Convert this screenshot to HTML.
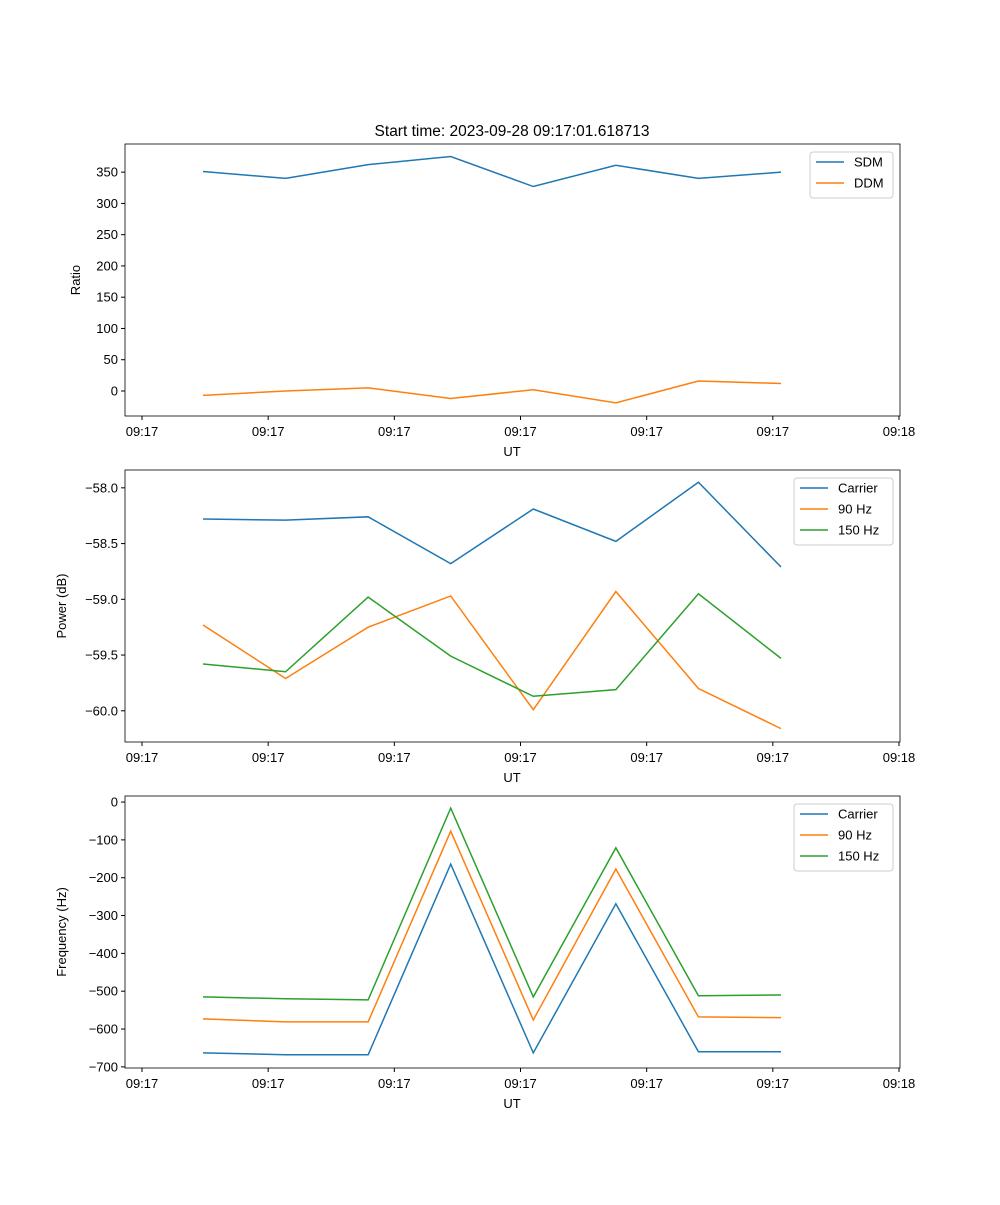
<!DOCTYPE html>
<html><head><meta charset="utf-8"><style>
body{margin:0;background:#fff}
svg text{font-family:"Liberation Sans","DejaVu Sans",sans-serif;font-size:13px;fill:#000}
</style></head><body>
<svg id="c" width="1000" height="1200" xmlns="http://www.w3.org/2000/svg">
<text x="512" y="136" text-anchor="middle" style="font-size:15.5px">Start time: 2023-09-28 09:17:01.618713</text>
</svg>
<script>
const xTickLabels=["09:17","09:17","09:17","09:17","09:17","09:17","09:18"];
const sdm=[351,340,362,375,327,361,340,350];
const ddm=[-7,0,5,-12,2,-19,16,12];
const pwrCarrier=[-58.28,-58.29,-58.26,-58.68,-58.19,-58.48,-57.95,-58.71];
const pwr90=[-59.23,-59.71,-59.25,-58.97,-59.99,-58.93,-59.80,-60.16];
const pwr150=[-59.58,-59.65,-58.98,-59.51,-59.87,-59.81,-58.95,-59.53];
const frqCarrier=[-663,-668,-668,-164,-663,-269,-660,-660];
const frq90=[-573,-581,-581,-77,-576,-177,-568,-570];
const frq150=[-515,-520,-523,-16,-515,-121,-512,-510];
const ticks1=[0,50,100,150,200,250,300,350];
const ticks2=[-60.0,-59.5,-59.0,-58.5,-58.0];
const ticks3=[-700,-600,-500,-400,-300,-200,-100,0];
const svg=document.getElementById('c');
const NS='http://www.w3.org/2000/svg';
function mk(t,a,p){const e=document.createElementNS(NS,t);for(const k in a)e.setAttribute(k,a[k]);(p||svg).appendChild(e);return e;}
const L=125,R=900;
function xp(i){return 203+(781-203)/7*i;}
function panel(name,top,bot,ymin,ymax,ticks,fmt,ylabel,series,legend){
  const g=mk('g',{});
  
  
  const y=v=>bot-(v-ymin)/(ymax-ymin)*(bot-top);
  series.forEach(s=>{
    const p=mk('polyline',{points:s.d.map((v,i)=>xp(i)+','+y(v)).join(' '),fill:'none',stroke:s.c,'stroke-width':1.5},g);
    
    
  });
  mk('rect',{x:L,y:top,width:R-L,height:bot-top,fill:'none',stroke:'#000','stroke-width':0.8},g);
  ticks.forEach(v=>{const yy=y(v);mk('line',{x1:L-4,x2:L,y1:yy,y2:yy,stroke:'#000'},g);
    const t=mk('text',{x:L-7,y:yy+4.5,'text-anchor':'end'},g);t.textContent=fmt(v);
    });
  xTickLabels.forEach((s,j)=>{const xx=142+(899-142)/6*j;mk('line',{x1:xx,x2:xx,y1:bot,y2:bot+4,stroke:'#000'},g);
    const t=mk('text',{x:xx,y:bot+20,'text-anchor':'middle'},g);t.textContent=s;
    });
  const xl=mk('text',{x:512,y:bot+40,'text-anchor':'middle'},g);xl.textContent='UT';
  
  const cy=(top+bot)/2,lx=ylabel.length>6?66:80;
  const yl=mk('text',{x:lx,y:cy,'text-anchor':'middle',transform:`rotate(-90 ${lx} ${cy})`},g);yl.textContent=ylabel;
  
  const lg=mk('g',{},g);
  
  
  mk('rect',{x:legend.x,y:top+8,width:R-7-legend.x,height:series.length*21+4,fill:'#fff',stroke:'#ccc',rx:3},lg);
  series.forEach((s,i)=>{const yy=top+18+i*21;
    mk('line',{x1:legend.x+6,x2:legend.x+34,y1:yy,y2:yy,stroke:s.c,'stroke-width':1.5},lg);
    const t=mk('text',{x:legend.x+44,y:yy+4.5},lg);t.textContent=s.l;
    });
}
const B='#1f77b4',O='#ff7f0e',G='#2ca02c';
panel('ratio-panel',144,416,-40,395,ticks1,v=>v<0?'\u2212'+(-v):String(v),'Ratio',
 [{d:sdm,c:B,l:'SDM',n:'sdm-line'},{d:ddm,c:O,l:'DDM',n:'ddm-line'}],{x:810});
panel('power-panel',470,742,-60.28,-57.84,ticks2,v=>'\u2212'+(-v).toFixed(1),'Power (dB)',
 [{d:pwrCarrier,c:B,l:'Carrier',n:'power-carrier-line'},{d:pwr90,c:O,l:'90 Hz',n:'power-90hz-line'},{d:pwr150,c:G,l:'150 Hz',n:'power-150hz-line'}],{x:794});
panel('frequency-panel',796,1068,-703,16,ticks3,v=>v<0?'\u2212'+(-v):'0','Frequency (Hz)',
 [{d:frqCarrier,c:B,l:'Carrier',n:'freq-carrier-line'},{d:frq90,c:O,l:'90 Hz',n:'freq-90hz-line'},{d:frq150,c:G,l:'150 Hz',n:'freq-150hz-line'}],{x:794});
</script>
</body></html>
